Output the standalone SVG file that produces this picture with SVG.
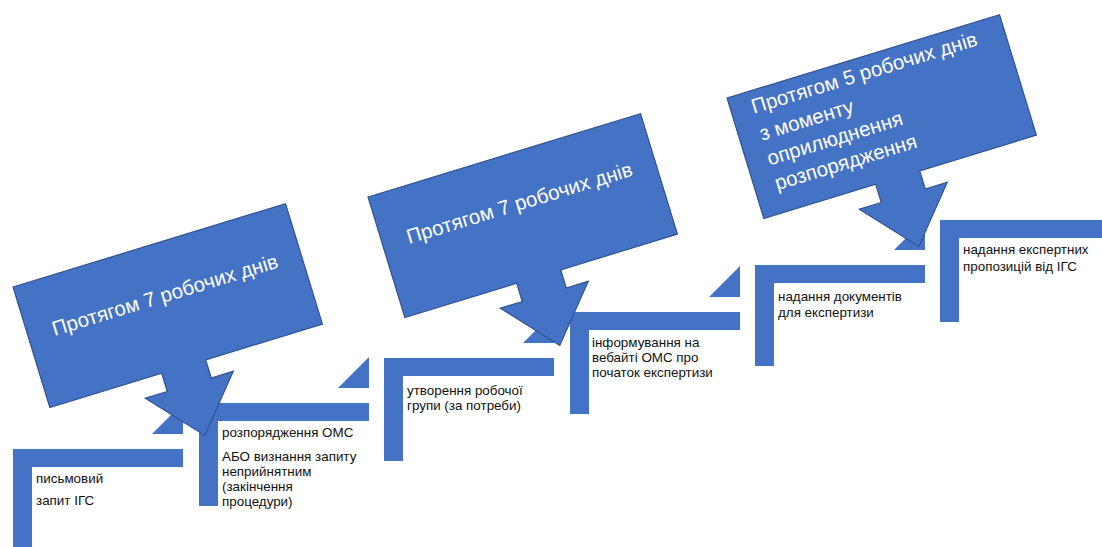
<svg xmlns="http://www.w3.org/2000/svg" width="1102" height="547" viewBox="0 0 1102 547">
<style>
.step{fill:#4472C4}
.tri{fill:#4472C4}
.call{fill:#4472C4;stroke:#2F528F;stroke-width:1.2;stroke-linejoin:miter}
.t{font-family:"Liberation Sans",Arial,sans-serif;font-size:13.4px;fill:#111}
.ct{font-family:"Liberation Sans",Arial,sans-serif;font-size:20.5px;fill:#fff}
</style>
<defs>
<path id="callout" d="M0,0 H285 V126 H163 V145 H186 L140,198 L94,145 H117 V126 H0 Z"/>
</defs>
<rect width="1102" height="547" fill="#fff"/>
<g id="connectors">
<path class="tri" d="M152,434 H183 V403 Z"/>
<path class="tri" d="M338,388 H369 V357 Z"/>
<path class="tri" d="M523,343 H554 V312 Z"/>
<path class="tri" d="M709,297 H740 V266 Z"/>
<path class="tri" d="M894,250 H925 V219 Z"/>
</g>
<g id="step1">
<path class="step" d="M13,449 H183 V467 H32 V552 H13 Z"/>
<text class="t" x="36" y="483">письмовий</text>
<text class="t" x="36" y="505">запит ІГС</text>
</g>
<g id="step2">
<path class="step" d="M199,403 H369 V421 H218 V506 H199 Z"/>
<text class="t" x="222" y="437">розпорядження ОМС</text>
<text class="t" x="222" y="461">АБО визнання запиту</text>
<text class="t" x="222" y="476">неприйнятним</text>
<text class="t" x="222" y="491">(закінчення</text>
<text class="t" x="222" y="506">процедури)</text>
</g>
<g id="step3">
<path class="step" d="M384,358 H554 V376 H403 V461 H384 Z"/>
<text class="t" x="407" y="395">утворення робочої</text>
<text class="t" x="407" y="410">групи (за потреби)</text>
</g>
<g id="step4">
<path class="step" d="M570,312 H740 V330 H589 V414 H570 Z"/>
<text class="t" x="592" y="347">інформування на</text>
<text class="t" x="592" y="362">вебайті ОМС про</text>
<text class="t" x="592" y="377">початок експертизи</text>
</g>
<g id="step5">
<path class="step" d="M755,265 H925 V283 H774 V366 H755 Z"/>
<text class="t" x="778" y="301">надання документів</text>
<text class="t" x="778" y="317">для експертизи</text>
</g>
<g id="step6">
<path class="step" d="M940,220 H1110 V238 H959 V322 H940 Z"/>
<text class="t" x="963" y="254">надання експертних</text>
<text class="t" x="963" y="271">пропозицій від ІГС</text>
</g>
<g id="callout1" transform="translate(13,287) rotate(-17)">
<use href="#callout" class="call"/>
<text class="ct" x="143" y="59" text-anchor="middle">Протягом 7 робочих днів</text>
</g>
<g id="callout2" transform="translate(368,197) rotate(-17)">
<use href="#callout" class="call"/>
<text class="ct" x="143" y="57" text-anchor="middle">Протягом 7 робочих днів</text>
</g>
<g id="callout3" transform="translate(727,98) rotate(-17)">
<use href="#callout" class="call"/>
<text class="ct" x="21" y="23">Протягом 5 робочих днів</text>
<text class="ct" x="21" y="51">з моменту</text>
<text class="ct" x="21" y="77">оприлюднення</text>
<text class="ct" x="21" y="103">розпорядження</text>
</g>
</svg>
